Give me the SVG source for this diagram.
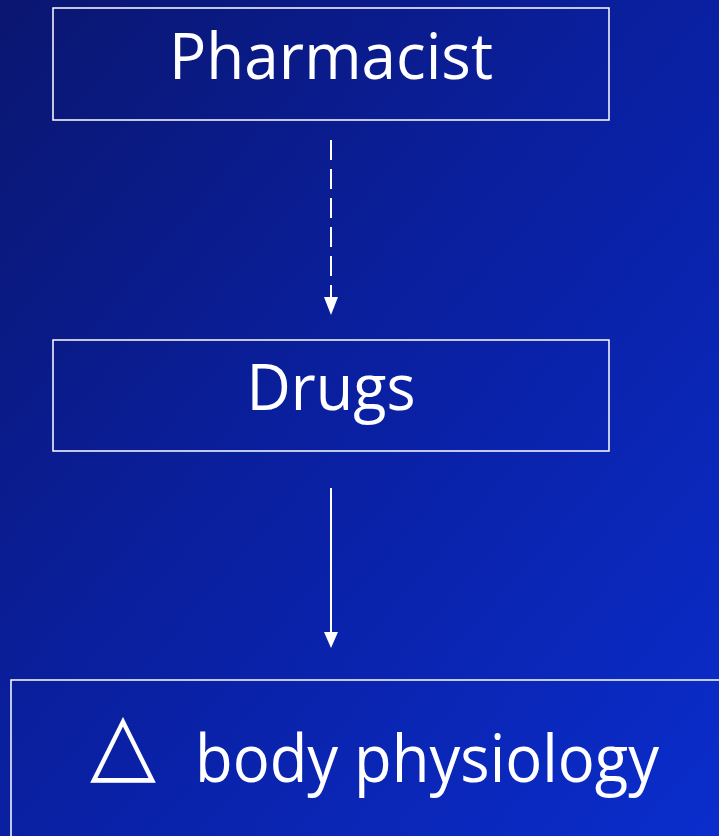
<svg xmlns="http://www.w3.org/2000/svg" width="719" height="836" viewBox="0 0 719 836">
<defs>
<linearGradient id="bg" x1="0" y1="0" x2="1" y2="1">
<stop offset="0" stop-color="#0a1670"/>
<stop offset="0.5" stop-color="#0a20a2"/>
<stop offset="1" stop-color="#0a2dcc"/>
</linearGradient>
<style>
.box{fill:none;stroke:#fff;stroke-width:1.5}
.lbl{fill:#fff;font-family:"Comic Sans MS","Open Sans","DejaVu Sans",sans-serif;text-anchor:middle}
.conn{stroke:#fff;stroke-width:2;fill:none}
.head{fill:#fff}
</style>
</defs>
<rect width="719" height="836" fill="url(#bg)"/>
<g id="pharmacist">
<rect class="box" x="53" y="8" width="556" height="112"/>
<text class="lbl" x="331" y="79" font-size="64" textLength="324" lengthAdjust="spacingAndGlyphs">Pharmacist</text>
</g>
<g id="drugs">
<rect class="box" x="53" y="340" width="556" height="111"/>
<text class="lbl" x="331" y="410" font-size="64" textLength="169" lengthAdjust="spacingAndGlyphs">Drugs</text>
</g>
<g id="body">
<rect class="box" x="11" y="680" width="720" height="170"/>
<text x="123" y="772" font-family="DejaVu Sans, sans-serif" font-size="86" fill="#fff" text-anchor="middle" textLength="66" lengthAdjust="spacingAndGlyphs">△</text>
<text class="lbl" x="427" y="782" font-size="66" textLength="464" lengthAdjust="spacingAndGlyphs">body physiology</text>
</g>
<g id="connectors">
<line class="conn" x1="331" y1="140" x2="331" y2="298" stroke-dasharray="20,9"/>
<path class="head" d="M324,297 L338,297 L331,315 Z"/>
<line class="conn" x1="331" y1="488" x2="331" y2="634"/>
<path class="head" d="M324,632 L338,632 L331,648 Z"/>
</g>
</svg>
